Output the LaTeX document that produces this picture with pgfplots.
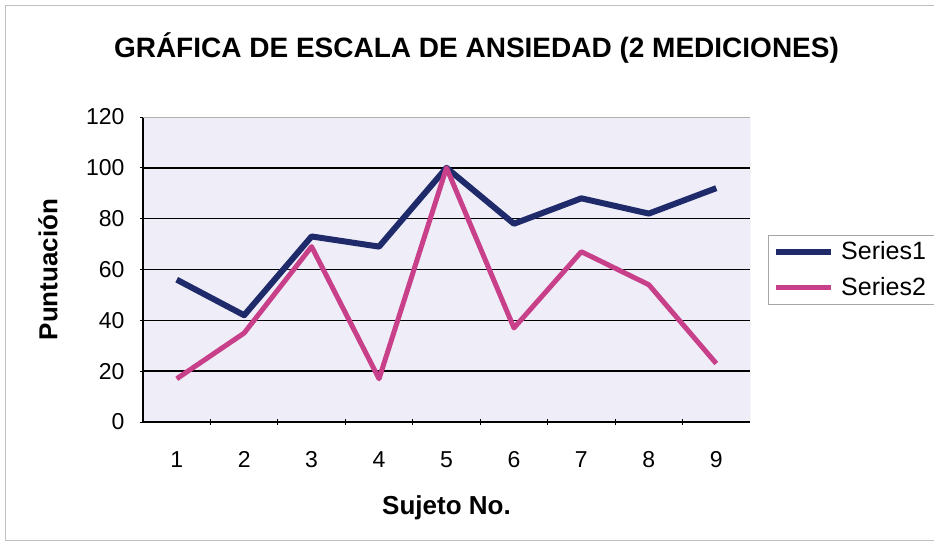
\documentclass[border=0pt]{standalone}
\usepackage{pgfplots}
\pgfplotsset{compat=1.18}
\usepackage{fontspec}
\setmainfont{Liberation Sans}
\definecolor{sone}{HTML}{1F2A6B}
\definecolor{stwo}{HTML}{C8408A}
\definecolor{plotbg}{HTML}{EFEEF8}
\begin{document}
\begin{tikzpicture}[x=1pt,y=1pt]
\path[use as bounding box] (-143,-123) rectangle (791,422);
\draw[gray!50, line width=0.8pt] (-138,-118) rectangle (800,417);
\begin{axis}[
  scale only axis, width=607pt, height=305pt,
  at={(0,0)}, anchor=south west,
  xmin=0.5, xmax=9.5, ymin=0, ymax=120,
  xtick={1,...,9}, ytick={0,20,...,100},
  extra y ticks={120}, extra y tick style={grid=none},
  major x tick style={draw=none},
  minor xtick={1.5,2.5,...,8.5},
  minor tick length=6pt, major tick length=6pt,
  tick align=outside,
  tick style={black, line width=0.8pt},
  ymajorgrids, grid style={black, line width=1.4pt},
  axis lines=left, axis line style={-, black, line width=1.4pt},
  axis background/.style={fill=plotbg},
  /pgf/number format/assume math mode=true,
  ticklabel style={font=\fontsize{23}{23}\selectfont},
  xticklabel style={yshift=-23pt},
  yticklabel style={xshift=-12pt},
  xlabel={\textbf{Sujeto No.}},
  ylabel={\textbf{Puntuación}},
  every axis x label/.style={at={(rel axis cs:0.5,0)}, anchor=center, yshift=-86pt, font=\fontsize{26}{26}\selectfont},
  every axis y label/.style={at={(rel axis cs:0,0.5)}, anchor=center, xshift=-95pt, rotate=90, font=\fontsize{26}{26}\selectfont},
  legend style={at={(rel axis cs:1,0.5)}, anchor=west, xshift=18pt, draw=gray!70, fill=white,
    font=\fontsize{25}{25}\selectfont, row sep=12pt, inner sep=5pt,
    nodes={inner xsep=7pt}},
  legend cell align=left,
  legend image code/.code={\draw[#1] (0pt,0pt) -- (55pt,0pt);},
]
\addplot[sone, line width=6pt, line join=round] coordinates {
  (1,56) (2,42) (3,73) (4,69) (5,100) (6,78) (7,88) (8,82) (9,92)};
\addlegendentry{Series1}
\addplot[stwo, line width=5pt, line join=round] coordinates {
  (1,17) (2,35) (3,69) (4,17) (5,100) (6,37) (7,67) (8,54) (9,23)};
\addlegendentry{Series2}
\draw[gray!60, line width=0.8pt] (rel axis cs:0,1) -- (rel axis cs:1,1) -- (rel axis cs:1,0);
\end{axis}
\node[font=\bfseries\fontsize{28}{28}\selectfont] at (333.5,374) {GRÁFICA DE ESCALA DE ANSIEDAD (2 MEDICIONES)};
\end{tikzpicture}
\end{document}
